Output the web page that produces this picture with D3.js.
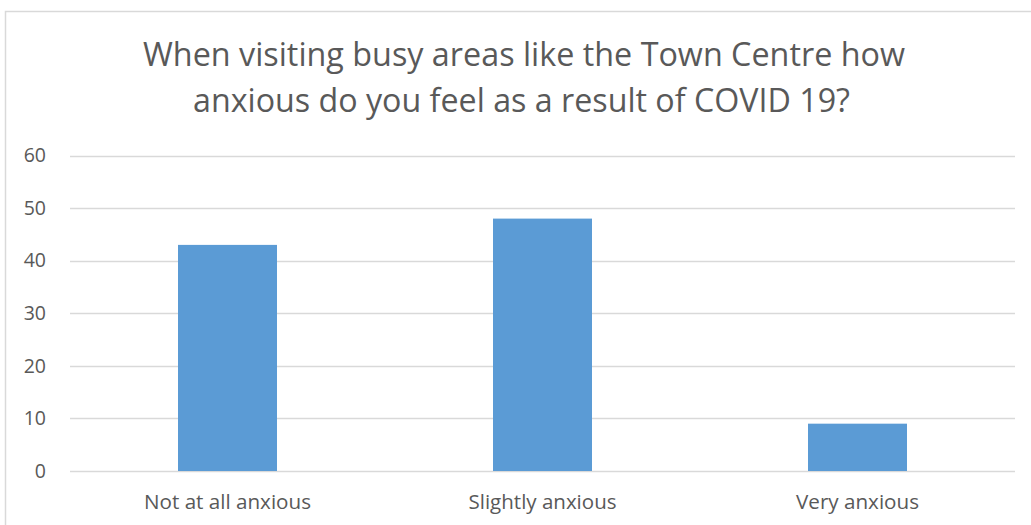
<!DOCTYPE html>
<html><head><meta charset="utf-8">
<script src="https://cdn.jsdelivr.net/npm/d3@7"></script>
<style>html,body{margin:0;padding:0;background:#fff;overflow:hidden}</style>
</head><body>
<script>
const categories = ["Not at all anxious", "Slightly anxious", "Very anxious"];
const values = [43, 48, 9];
const yTicks = [0, 10, 20, 30, 40, 50, 60];
const titleLines = ["When visiting busy areas like the Town Centre how", "anxious do you feel as a result of COVID 19?"];

const W = 1031, H = 525;
const svg = d3.select("body").append("svg").attr("width", W).attr("height", H);
const font = "'Open Sans', sans-serif";

// chart border
svg.append("rect").attr("x", 5.5).attr("y", 11.5).attr("width", 1100).attr("height", 600)
  .attr("fill", "#fff").attr("stroke", "#d9d9d9").attr("stroke-width", 1.5);

const x = d3.scaleBand().domain(categories).range([70, 1015]).paddingInner(0).paddingOuter(0);
const y = d3.scaleLinear().domain([0, 60]).range([471, 155.5]);
const barW = 99;

// gridlines
svg.append("g").selectAll("line").data(yTicks).join("line")
  .attr("x1", 70).attr("x2", 1015)
  .attr("y1", d => Math.round(y(d)) + 0.5).attr("y2", d => Math.round(y(d)) + 0.5)
  .attr("stroke", "#d9d9d9").attr("stroke-width", 1.5);

// y labels
svg.append("g").selectAll("text").data(yTicks).join("text")
  .attr("x", 46).attr("y", d => y(d)).attr("dy", "0.35em")
  .attr("text-anchor", "end").attr("font-family", font).attr("font-size", 19.5)
  .attr("fill", "#595959").text(d => d);

// bars
svg.append("g").selectAll("rect").data(values).join("rect")
  .attr("x", (d, i) => x(categories[i]) + x.bandwidth() / 2 - barW / 2)
  .attr("width", barW)
  .attr("y", d => y(d)).attr("height", d => y(0) - y(d))
  .attr("fill", "#5b9bd5");

// category labels
const catWidths = [167, 148, 123];
svg.append("g").selectAll("text").data(categories).join("text")
  .attr("x", d => x(d) + x.bandwidth() / 2).attr("y", 509)
  .attr("text-anchor", "middle").attr("font-family", font).attr("font-size", 19.5)
  .attr("fill", "#595959")
  .attr("textLength", (d, i) => catWidths[i]).attr("lengthAdjust", "spacingAndGlyphs")
  .text(d => d);

// title
const titleWidths = [762, 657];
svg.append("g").selectAll("text").data(titleLines).join("text")
  .attr("x", (d, i) => i === 0 ? 143 + 381 : 193 + 328.5)
  .attr("y", (d, i) => 66 + i * 46)
  .attr("text-anchor", "middle").attr("font-family", font).attr("font-size", 32.5)
  .attr("fill", "#595959")
  .attr("textLength", (d, i) => titleWidths[i]).attr("lengthAdjust", "spacingAndGlyphs")
  .text(d => d);
</script>
</body></html>
